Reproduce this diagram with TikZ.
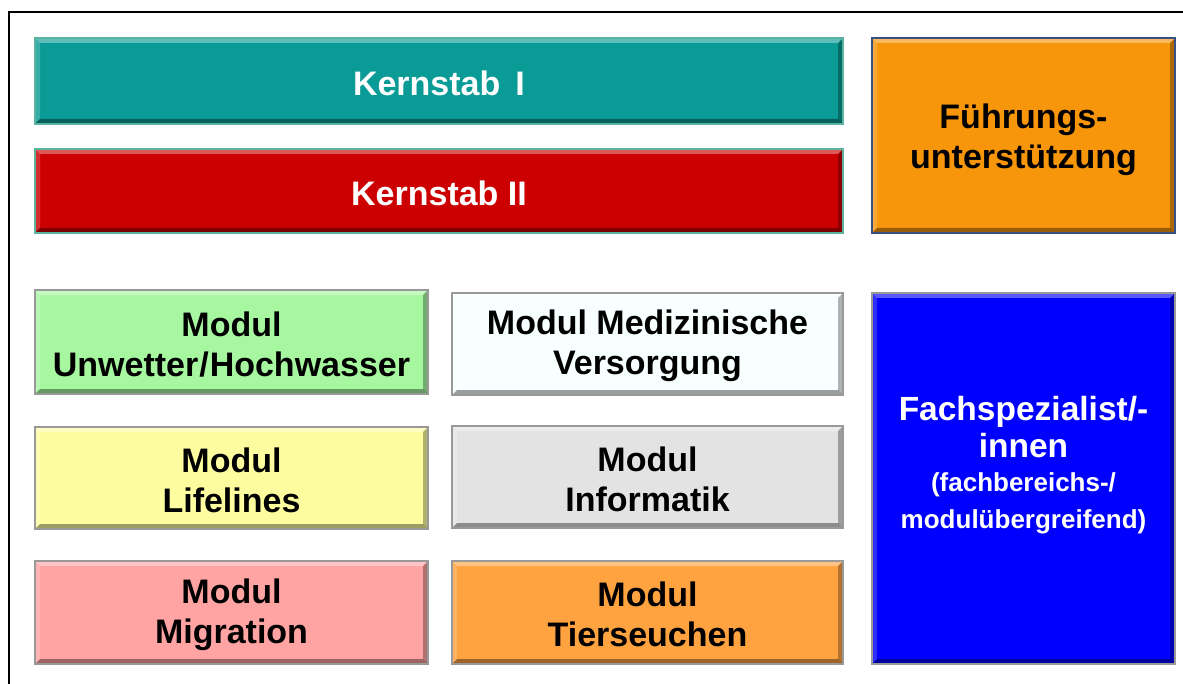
\documentclass[tikz,border=0pt]{standalone}
\usepackage{fontspec}
\setmainfont{Liberation Sans}
\begin{document}
\begin{tikzpicture}[x=1pt,y=-1pt,
  box/.style={draw=#1, line width=1.2pt, inner sep=0pt, outer sep=0pt, align=center,
    font=\bfseries\fontsize{34}{40}\selectfont,
    path picture={
      \coordinate (nw) at (path picture bounding box.north west);
      \coordinate (ne) at (path picture bounding box.north east);
      \coordinate (sw) at (path picture bounding box.south west);
      \coordinate (se) at (path picture bounding box.south east);
      \fill[white,opacity=0.35] (nw) -- (ne) -- ([shift={(-5pt,-5pt)}]ne) -- ([shift={(5pt,-5pt)}]nw) -- cycle;
      \fill[white,opacity=0.18] (nw) -- (sw) -- ([shift={(5pt,5pt)}]sw) -- ([shift={(5pt,-5pt)}]nw) -- cycle;
      \fill[black,opacity=0.30] (ne) -- (se) -- ([shift={(-5pt,5pt)}]se) -- ([shift={(-5pt,-5pt)}]ne) -- cycle;
      \fill[black,opacity=0.38] (sw) -- (se) -- ([shift={(-5pt,5pt)}]se) -- ([shift={(5pt,5pt)}]sw) -- cycle;
    }},
  box/.default={gray!80},
  boxtext/.style={align=center, inner sep=0pt, font=\bfseries\fontsize{34}{40}\selectfont}]
\definecolor{cteal}{RGB}{10,155,150}
\definecolor{cred}{RGB}{204,0,0}
\definecolor{corange}{RGB}{247,150,10}
\definecolor{cgreen}{RGB}{166,247,160}
\definecolor{cwhite}{RGB}{248,255,255}
\definecolor{cyellow}{RGB}{253,253,160}
\definecolor{cgray}{RGB}{227,227,227}
\definecolor{cpink}{RGB}{255,163,163}
\definecolor{corange2}{RGB}{255,162,64}
\definecolor{cblue}{RGB}{0,0,255}
\definecolor{ctealborder}{RGB}{90,180,160}
\definecolor{cnavy}{RGB}{56,80,130}

\useasboundingbox (0,0) rectangle (1183,684);
\draw[line width=1.5pt] (9,690) -- (9,12) -- (1190,12);

\node[box=ctealborder, fill=cteal, text=white, minimum width=808, minimum height=86] (k1) at (439,81) {};
\node[boxtext, text=white] (k1t) at (439,83) {Kernstab\, I};
\node[box=ctealborder, fill=cred, text=white, minimum width=808, minimum height=84] (k2) at (439,191) {};
\node[boxtext, text=white] (k2t) at (439,193) {Kernstab II};
\node[box=cnavy, fill=corange, minimum width=303, minimum height=195] (fu) at (1023.5,135.5) {};
\node[boxtext] (fut) at (1023.5,139.5) {Führungs-\\unterstützung};

\node[box, fill=cgreen, minimum width=393, minimum height=104] (m1) at (231.5,342) {};
\node[boxtext] (m1t) at (231.5,344.5) {Modul\\Unwetter\kern1pt/\kern1pt Hochwasser};
\node[box, fill=cwhite, minimum width=391, minimum height=102] (m2) at (647.5,344) {};
\node[boxtext] (m2t) at (647.5,346) {Modul Medizinische\\Versorgung};
\node[box, fill=cyellow, minimum width=393, minimum height=102] (m3) at (231.5,478) {};
\node[boxtext] (m3t) at (231.5,480) {Modul\\Lifelines};
\node[box, fill=cgray, minimum width=391, minimum height=102] (m4) at (647.5,477) {};
\node[boxtext] (m4t) at (647.5,479) {Modul\\Informatik};
\node[box, fill=cpink, minimum width=393, minimum height=103] (m5) at (231.5,612.5) {};
\node[boxtext] (m5t) at (231.5,614.5) {Modul\\Migration};
\node[box, fill=corange2, minimum width=391, minimum height=103] (m6) at (647.5,612.5) {};
\node[boxtext] (m6t) at (647.5,614.5) {Modul\\Tierseuchen};

\node[box, fill=cblue, text=white, minimum width=303, minimum height=371] (fs) at (1023.5,478.5) {};
\node[text=white, align=center, font=\bfseries\fontsize{33.5}{37}\selectfont, inner sep=0pt] (fst) at (1023.5,465)
  {Fachspezialist/-\\innen\\[-3pt]\fontsize{26}{34}\selectfont (fachbereichs-/\\\fontsize{26}{34}\selectfont modulübergreifend)};
\end{tikzpicture}
\end{document}
